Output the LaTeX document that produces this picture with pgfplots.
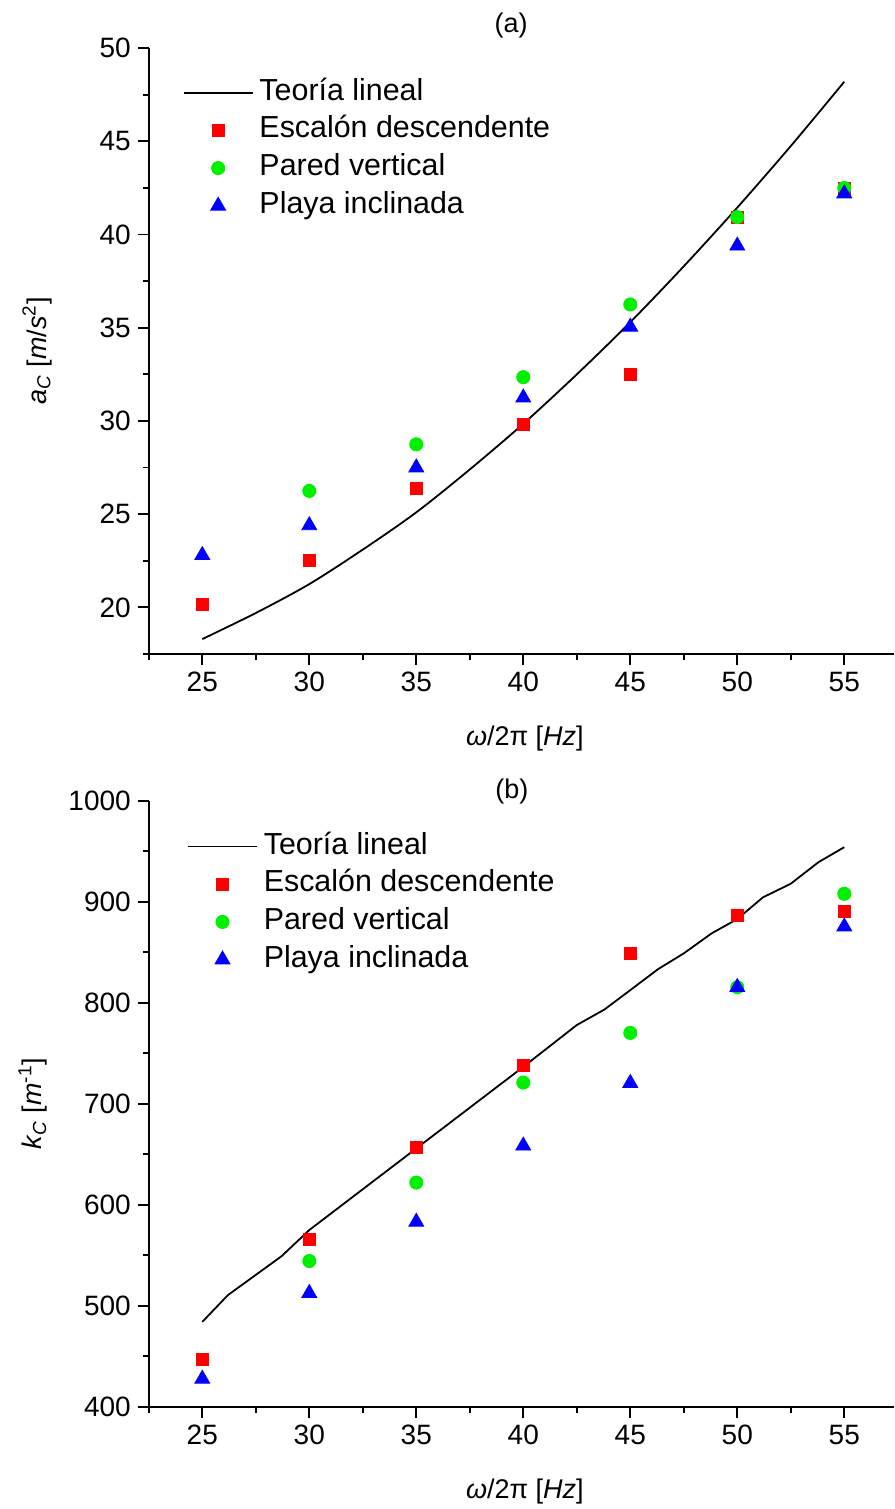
\documentclass[border=0pt]{standalone}
\usepackage{fontspec}
\setmainfont{Liberation Sans}
\usepackage{pgfplots}
\pgfplotsset{compat=1.18}

\pgfplotsset{
  myaxis/.style={
    scale only axis,
    width=372.35pt, height=302.9pt,
    axis lines*=left,
    axis line style={line width=1pt},
    clip=false,
    xmin=22.5, xmax=57.3,
    xtick={25,30,...,55},
    minor xtick={22.5,27.5,...,52.5},
    tick align=outside,
    major tick length=5.5pt,
    minor tick length=3pt,
    every tick/.style={black, line width=0.9pt},
    /pgf/number format/assume math mode=true,
    /pgf/number format/1000 sep={},
    ticklabel style={font=\fontsize{14}{16}\selectfont},
    label style={font=\fontsize{13.5}{16}\selectfont},
    legend style={draw=none, fill=none, inner sep=0pt, outer sep=0pt,
      font=\fontsize{15.2}{17}\selectfont,
      nodes={inner sep=0pt, text height=10.5pt, text depth=3pt},
      column sep=3pt, row sep=5.35pt, anchor=north west},
    legend cell align=left,
    legend image code/.code={\draw[mark repeat=2,mark phase=2,##1] plot coordinates {(0pt,0pt) (17.3pt,0pt) (34.5pt,0pt)};},
    xlabel={\textit{ω}/2π [\textit{Hz}]},
  },
  sq/.style={only marks, mark=square*, mark size=3pt, color={rgb,255:red,255;green,0;blue,0}},
  ci/.style={only marks, mark=*, mark size=3.3pt, color={rgb,255:red,0;green,240;blue,0}},
  tr/.style={only marks, mark=triangle*, mark size=4.3pt, color={rgb,255:red,0;green,0;blue,255}},
  th/.style={black, line width=0.9pt, no marks},
}

\begin{document}
\begin{tikzpicture}
\begin{axis}[myaxis,
  at={(0pt,0pt)}, anchor=south west,
  ymin=17.5, ymax=50,
  ytick={20,25,...,50},
  minor ytick={17.5,22.5,...,47.5},
  ylabel={\textit{a}\textsubscript{\textit{C}} [\textit{m}/\textit{s}\textsuperscript{2}]},
  ylabel style={at={(axis description cs:-0.150,0.5)}, anchor=center},
  xlabel style={at={(axis description cs:0.505,-0.1387)}, anchor=center},
  legend style={at={(axis description cs:0.0455,0.9488)}},
]
\addplot[th, smooth] coordinates {
 (25,18.3) (27.5,19.7) (30,21.25) (32.5,23.1) (35,25.1) (37.5,27.4) (40,29.85)
 (42.5,32.5) (45,35.3) (47.5,38.3) (50,41.45) (52.5,44.75) (55,48.2)};
\addlegendentry{Teoría lineal}
\addplot[sq] coordinates {
 (25,20.15) (30,22.5) (35,26.4) (40,29.82) (45,32.48) (50,40.94) (55,42.5)};
\addlegendentry{Escalón descendente}
\addplot[ci] coordinates {
 (30,26.25) (35,28.75) (40,32.35) (45,36.25) (50,40.94) (55,42.5)};
\addlegendentry{Pared vertical}
\addplot[tr] coordinates {
 (25,22.8) (30,24.4) (35,27.5) (40,31.25) (45,35.05) (50,39.4) (55,42.2)};
\addlegendentry{Playa inclinada}
\node[font=\fontsize{13.5}{16}\selectfont, anchor=center, inner sep=0pt]
  at (axis description cs:0.4864,1.0368) {(a)};
\end{axis}

\begin{axis}[myaxis,
  at={(0pt,-376.35pt)}, anchor=south west,
  ymin=400, ymax=1000,
  ytick={400,500,...,1000},
  minor ytick={450,550,...,950},
  ylabel={\textit{k}\textsubscript{\textit{C}} [\textit{m}\textsuperscript{-1}]},
  ylabel style={at={(axis description cs:-0.1555,0.5)}, anchor=center},
  xlabel style={at={(axis description cs:0.505,-0.1403)}, anchor=center},
  legend style={at={(axis description cs:0.0513,0.947)}},
]
\addplot[th] coordinates {
 (25,484) (26.2,510.6) (28.7,549) (30,575) (35,655.8) (40,736.6) (42.5,778)
 (43.8,793.5) (45,812.6) (46.3,833.4) (47.5,849) (48.8,868.8) (50,883)
 (51.2,904.5) (52.5,918) (53.8,939.4) (55,954.2)};
\addlegendentry{Teoría lineal}
\addplot[sq] coordinates {
 (25,447) (30,566) (35,656.8) (40,737.6) (45,849) (50,886.4) (55,890.4)};
\addlegendentry{Escalón descendente}
\addplot[ci] coordinates {
 (30,544.3) (35,622) (40,721) (45,770.2) (50,815.5) (55,908)};
\addlegendentry{Pared vertical}
\addplot[tr] coordinates {
 (25,427.5) (30,512.5) (35,583) (40,658.5) (45,720.5) (50,815.5) (55,875.5)};
\addlegendentry{Playa inclinada}
\node[font=\fontsize{13.5}{16}\selectfont, anchor=center, inner sep=0pt]
  at (axis description cs:0.4877,1.0149) {(b)};
\end{axis}
\pgfresetboundingbox
\useasboundingbox (-74.4pt,-427.5pt) rectangle (372.6pt,327pt);
\end{tikzpicture}
\end{document}
